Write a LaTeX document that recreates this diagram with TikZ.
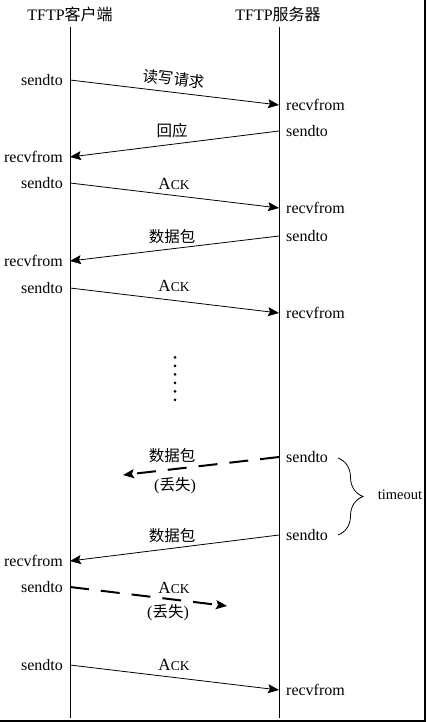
\documentclass[tikz,border=0pt]{standalone}
\usepackage{fontspec}
\setmainfont{Liberation Serif}
\newfontfamily\cjk{Noto Sans CJK SC}
\usetikzlibrary{arrows.meta,decorations.pathreplacing}
\tikzset{
  msg/.style={-{Stealth[length=11pt,width=9pt,inset=2pt]}, line width=0.8pt},
  lost/.style={msg, line width=2pt, dash pattern=on 19pt off 12pt},
  lifeline/.style={line width=1pt},
  lbl/.style={inner sep=0pt, font=\fontsize{16pt}{18pt}\selectfont},
  lft/.style={lbl, anchor=east},
  rgt/.style={lbl, anchor=west},
  cn/.style={inner sep=0pt, font=\fontsize{15.5pt}{18pt}\selectfont\cjk},
  ack/.style={inner sep=0pt},
}
\newcommand{\ackt}{{\fontsize{17pt}{18pt}\selectfont A}{\fontsize{13.5pt}{16pt}\selectfont CK}}
\newcommand{\lostt}{{\fontsize{16pt}{18pt}\selectfont(}{\cjk\fontsize{15.5pt}{18pt}\selectfont 丢失}{\fontsize{16pt}{18pt}\selectfont)}}
\begin{document}
\begin{tikzpicture}[x=1pt,y=-1pt]
\useasboundingbox (0,0) rectangle (426,722);
% titles
\node[lbl] (tc) at (70,14) {TFTP{\cjk 客户端}};
\node[lbl] (ts) at (278,14) {TFTP{\cjk 服务器}};
% lifelines
\coordinate (ctop) at (70,27);
\coordinate (cbot) at (70,718);
\coordinate (stop) at (279,27);
\coordinate (sbot) at (279,718);
\draw[lifeline] (ctop) -- (cbot);
\draw[lifeline] (stop) -- (sbot);
% frame (right and bottom)
\coordinate (f1) at (425.2,0);
\coordinate (f2) at (425.2,720.8);
\coordinate (f3) at (0,720.8);
\draw[line width=2.2pt] (f1) -- (f2) -- (f3);
% message end points
\coordinate (c1) at (70,80);   \coordinate (s1) at (279,105);
\coordinate (s2) at (279,131); \coordinate (c2) at (70,157);
\coordinate (c3) at (70,183);  \coordinate (s3) at (279,208);
\coordinate (s4) at (279,236); \coordinate (c4) at (70,261);
\coordinate (c5) at (70,288);  \coordinate (s5) at (279,313);
\coordinate (s6) at (279,457); \coordinate (e6) at (123,475);
\coordinate (s7) at (279,535); \coordinate (c7) at (70,561);
\coordinate (c8) at (70,587);  \coordinate (e8) at (227,606);
\coordinate (c9) at (70,665);  \coordinate (s9) at (279,690);
% side labels
\node[lft] (lc1) at (63,80) {sendto};
\node[rgt] (ls1) at (286,105) {recvfrom};
\node[rgt] (ls2) at (286,131) {sendto};
\node[lft] (lc2) at (63,157) {recvfrom};
\node[lft] (lc3) at (63,183) {sendto};
\node[rgt] (ls3) at (286,208) {recvfrom};
\node[rgt] (ls4) at (286,236) {sendto};
\node[lft] (lc4) at (63,261) {recvfrom};
\node[lft] (lc5) at (63,288) {sendto};
\node[rgt] (ls5) at (286,313) {recvfrom};
\node[rgt] (ls6) at (286,457) {sendto};
\node[rgt] (ls7) at (286,535) {sendto};
\node[lft] (lc7) at (63,561) {recvfrom};
\node[lft] (lc8) at (63,587) {sendto};
\node[lft] (lc9) at (63,665) {sendto};
\node[rgt] (ls9) at (286,690) {recvfrom};
% arrows
\draw[msg] (c1) -- (s1);
\draw[msg] (s2) -- (c2);
\draw[msg] (c3) -- (s3);
\draw[msg] (s4) -- (c4);
\draw[msg] (c5) -- (s5);
\draw[lost] (s6) -- (e6);
\draw[msg] (s7) -- (c7);
\draw[lost] (c8) -- (e8);
\draw[msg] (c9) -- (s9);
% message labels
\node[cn, rotate=-6.8] (m1) at (174,79) {读写请求};
\node[cn] (m2) at (172,131) {回应};
\node[ack] (m3) at (174,184) {\ackt};
\node[cn] (m4) at (172,237) {数据包};
\node[ack] (m5) at (174,286) {\ackt};
\node[cn] (m6) at (172,456) {数据包};
\node[inner sep=0pt] (m6b) at (175,486) {\lostt};
\node[cn] (m7) at (172,536) {数据包};
\node[ack] (m8) at (174,588) {\ackt};
\node[inner sep=0pt] (m8b) at (168,613) {\lostt};
\node[ack] (m9) at (174,665) {\ackt};
% dots
\foreach \k in {0,...,5} {\fill (175,357.3+8.5*\k) circle (1.5pt);}
% timeout brace
\coordinate (b1) at (338,458);
\coordinate (b2) at (338,535);
\draw[line width=0.8pt, decorate, decoration={brace, amplitude=25pt}] (b1) -- (b2);
\node[inner sep=0pt, font=\fontsize{14.5pt}{16pt}\selectfont] (to) at (400,495) {timeout};
\end{tikzpicture}
\end{document}
